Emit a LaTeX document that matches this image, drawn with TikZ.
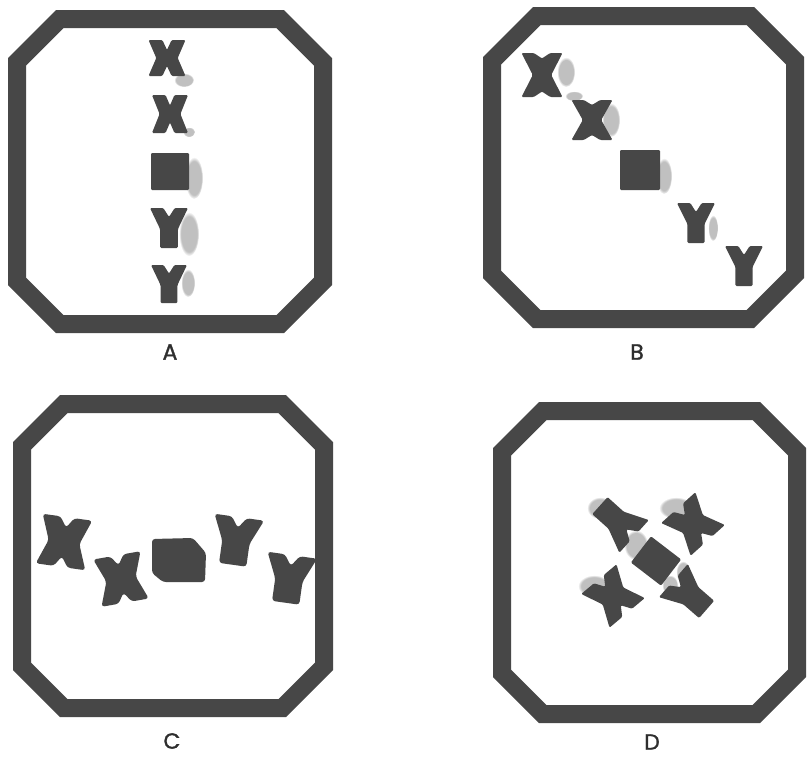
\documentclass[tikz,border=0pt]{standalone}
\usepackage{fontspec}
\setmainfont{Poppins}[FakeBold=1.3]
\usetikzlibrary{fadings}
\definecolor{inkc}{HTML}{474747}
\definecolor{hazec}{HTML}{A6A6A6}
\definecolor{labc}{HTML}{2E2E2E}
\tikzset{
  ink/.style={fill=inkc, draw=none, rounded corners=1.2pt},
  blob/.style={fill=inkc, draw=none, rounded corners=3pt},
  haze/.style={fill=hazec, draw=none, path fading=circle with fuzzy edge 20 percent, opacity=0.7},
  lab/.style={font=\fontsize{22}{22}\selectfont, text=labc, inner sep=0pt},
}
% octagonal frame: left, top, right, bottom, corner cut (outer edge, 18 units thick)
\newcommand\octframe[5]{%
  \fill[inkc, even odd rule]
    ({#1+#5},#2) -- ({#3-#5},#2) -- (#3,{#2+#5}) -- (#3,{#4-#5}) --
    ({#3-#5},#4) -- ({#1+#5},#4) -- (#1,{#4-#5}) -- (#1,{#2+#5}) -- cycle
    ({#1+7.5+#5},{#2+18}) -- ({#3-7.5-#5},{#2+18}) -- ({#3-18},{#2+7.5+#5}) --
    ({#3-18},{#4-7.5-#5}) -- ({#3-7.5-#5},{#4-18}) -- ({#1+7.5+#5},{#4-18}) --
    ({#1+18},{#4-7.5-#5}) -- ({#1+18},{#2+7.5+#5}) -- cycle;}
% X-shaped chromosome: centre x, y, half width, half height, rotation, end notch, side notch, arm inner edge
\newcommand\shX[9][ink]{%
  \fill[#1, shift={(#2,#3)}, rotate=#6, xscale=#4, yscale=#5]
    (-1,-1) -- (-#9,-1) -- (0,{-1+#7}) -- (#9,-1) -- (1,-1) -- ({1-#8},0) --
    (1,1) -- (#9,1) -- (0,{1-#7}) -- (-#9,1) -- (-1,1) -- ({-1+#8},0) -- cycle;}
% Y-shaped chromosome: centre x, y, half width, half height, rotation, stem half width
\newcommand\shY[7][ink]{%
  \fill[#1, shift={(#2,#3)}, rotate=#6, xscale=#4, yscale=#5]
    (-1,-1) -- (-0.3,-1) -- (0,-0.55) -- (0.3,-1) -- (1,-1) -- (#7,0.05) --
    (#7,1) -- (-#7,1) -- (-#7,0.05) -- cycle;}
% square body: centre x, y, half width, half height, rotation
\newcommand\shSq[6][ink]{%
  \fill[#1, shift={(#2,#3)}, rotate=#6, xscale=#4, yscale=#5] (-1,-1) rectangle (1,1);}
\begin{document}
\begin{tikzpicture}[x=1pt,y=-1pt]
\useasboundingbox (0,0) rectangle (807,758);
\fill[white] (0,0) rectangle (807,758);

% ---------- A : vertical row ----------
\fill[haze] (184,80) ellipse (10 and 7);
\fill[haze] (189,132) ellipse (6 and 5);
\fill[haze] (194,178) ellipse (9 and 21);
\fill[haze] (189,234) ellipse (10 and 22);
\fill[haze] (188,283) ellipse (7 and 14);
\octframe{8}{10}{332}{333}{48}
\shX{167}{58}{18.5}{18}{0}{0.55}{0.42}{0.25}
\shX{170}{114}{18}{19}{0}{0.55}{0.42}{0.25}
\shSq{170}{171.5}{19}{18.5}{0}
\shY{169}{228}{19}{20}{0}{0.47}
\shY{169}{284}{18}{19}{0}{0.47}
\node[lab] (labA) at (170,352) {A};

% ---------- B : diagonal row ----------
\fill[haze] (566,72) ellipse (9 and 15);
\fill[haze] (574,96) ellipse (9 and 5);
\fill[haze] (611,120) ellipse (9 and 17);
\fill[haze] (664,176) ellipse (8 and 18);
\fill[haze] (713,228) ellipse (5 and 13);
\octframe{483}{7}{804}{328}{50}
\shX{542}{75}{20.5}{22}{0}{0.25}{0.55}{0.4}
\shX{592}{120}{20.5}{20}{0}{0.25}{0.55}{0.4}
\shSq{640}{170}{20}{20}{0}
\shY{696}{223}{19}{20}{0}{0.45}
\shY{744}{266}{19}{20}{0}{0.45}
\node[lab] (labB) at (637,352) {B};

% ---------- C : irregular row ----------
\octframe{13}{395}{333}{717}{47}
\shX[blob]{64}{542}{25}{25}{-8}{0.42}{0.38}{0.28}
\shX[blob]{121}{579}{24}{24}{10}{0.42}{0.38}{0.28}
\fill[blob] (152,539) -- (193,538) -- (206,553) -- (205,582) -- (163,582) -- (152,573) -- cycle;
\shY[blob]{236}{541}{25}{24}{-8}{0.55}
\shY[blob]{289}{579}{25}{24}{-8}{0.55}
\node[lab] (labC) at (172,741) {C};

% ---------- D : cross arrangement ----------
\fill[haze] (600,508) ellipse (13 and 11);
\fill[haze] (676,508) ellipse (17 and 11);
\fill[haze] (636,545) ellipse (12 and 15);
\fill[haze] (683,572) ellipse (7 and 11);
\fill[haze] (594,586) ellipse (16 and 11);
\fill[haze] (670,585) ellipse (8 and 10);
\octframe{493}{402}{806}{723}{46}
\shY{617}{521}{22}{23}{228}{0.52}
\shX{693}{524}{23}{22}{42}{0.45}{0.42}{0.28}
\shSq{656}{561}{19}{16.5}{-37.5}
\shX{613}{596}{23}{22}{40}{0.45}{0.42}{0.28}
\shY{690}{595}{22}{22}{49}{0.52}
\node[lab] (labD) at (652,742) {D};
\end{tikzpicture}
\end{document}
